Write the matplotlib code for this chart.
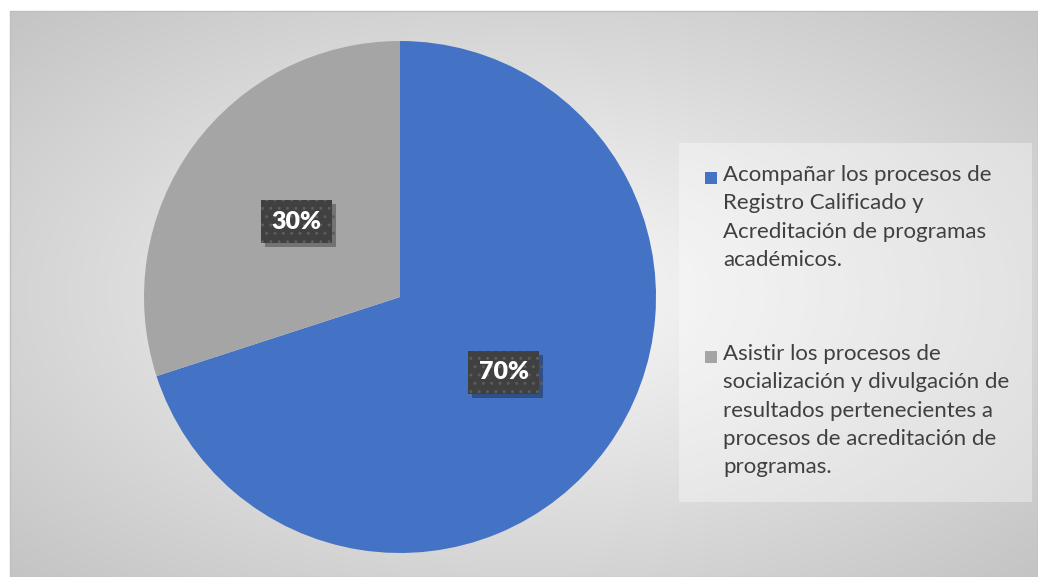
import numpy as np
import matplotlib
matplotlib.use("Agg")
import matplotlib.pyplot as plt
import matplotlib.patheffects as pe
from matplotlib.patches import Rectangle

# datos
categorias = [
    "Acompañar los procesos de\nRegistro Calificado y\nAcreditación de programas\nacadémicos.",
    "Asistir los procesos de\nsocialización y divulgación de\nresultados pertenecientes a\nprocesos de acreditación de\nprogramas.",
]
valores = [70, 30]
colores = ["#4472C4", "#A5A5A5"]

plt.rcParams['font.family'] = ['Lato', 'DejaVu Sans']

W, H = 1038, 577
fig = plt.figure(figsize=(W / 100, H / 100), dpi=100)
fig.patch.set_facecolor("white")

# fondo con degradado radial
bg = fig.add_axes([0, 0, 1, 1])
bg.set_xlim(0, W)
bg.set_ylim(H, 0)
bg.axis("off")
x0, y0, x1, y1 = 10, 11, W, H
xx, yy = np.meshgrid(np.linspace(-1, 1, 400), np.linspace(-1, 1, 240))
r = np.sqrt(xx**2 + yy**2) / np.sqrt(2)
g = (250 - 54 * r) / 255.0
img = np.dstack([g, g, g])
bg.imshow(img, extent=(x0, x1, y1, y0), aspect="auto", interpolation="bilinear")
bg.add_patch(Rectangle((x0, y0), x1 - x0, y1 - y0, fill=False, ec="#bfbfbf", lw=1))

# pastel
cx, cy, rad = 400, 297, 256
ax = fig.add_axes([(cx - rad) / W, (H - cy - rad) / H, 2 * rad / W, 2 * rad / H])
wedges, texts, autotexts = ax.pie(valores, colors=colores, startangle=90, counterclock=False,
                                  autopct="%d%%", pctdistance=0.5,
                                  wedgeprops=dict(linewidth=0))
ax.set_xlim(-1, 1)
ax.set_ylim(-1, 1)

for t in autotexts:
    t.set_color("white")
    t.set_fontsize(18)
    t.set_fontweight("heavy")
    t.set_bbox(dict(boxstyle="square,pad=0.42", fc="#404040", ec="#5c5c5c", lw=0, hatch=".."))
    t.get_bbox_patch().set_path_effects([
        pe.SimplePatchShadow(offset=(3, -3), shadow_rgbFace="black", alpha=0.3), pe.Normal()])
    t.set_zorder(5)

# leyenda
bg.add_patch(Rectangle((679, 143), 353, 359, fc="white", ec="none", alpha=0.35))
ypos = [165, 344]
for lab, col, yp in zip(categorias, colores, ypos):
    bg.add_patch(Rectangle((705, yp + 7), 12, 12, fc=col, ec="none"))
    bg.text(723, yp, lab, fontsize=16, color="#404040", ha="left", va="top", linespacing=1.52)

fig.savefig("out.png", dpi=100)
